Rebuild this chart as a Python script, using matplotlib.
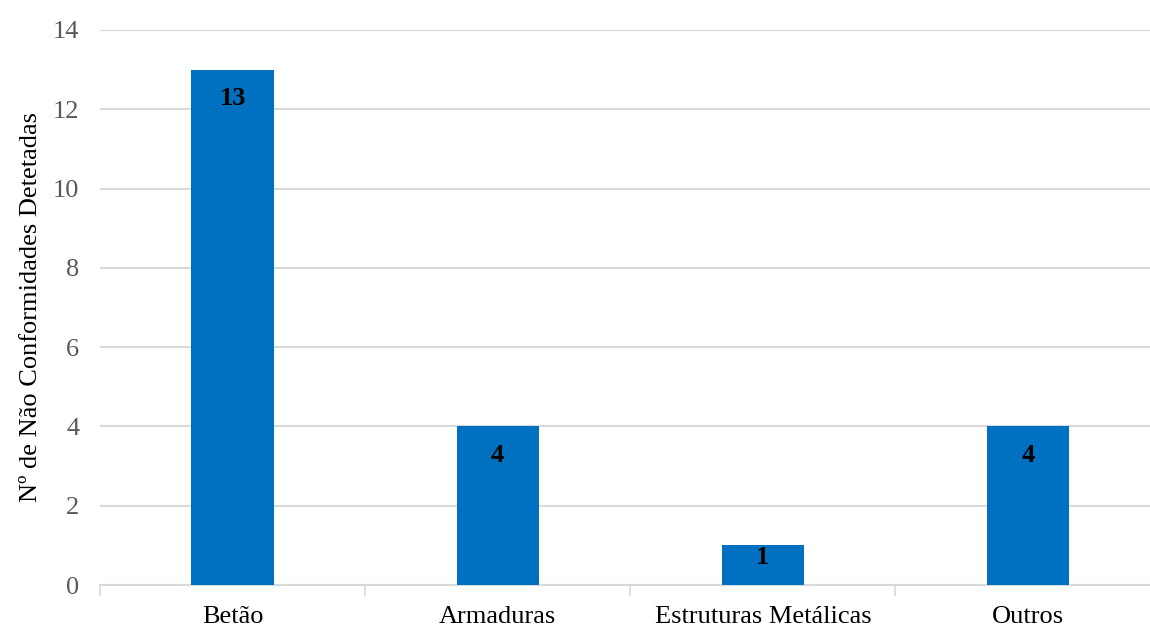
import matplotlib.pyplot as plt
import numpy as np

plt.rcParams['font.family'] = ['Liberation Serif', 'DejaVu Serif']

categorias = ['Betão', 'Armaduras', 'Estruturas Metálicas', 'Outros']
nao_conformidades = [13, 4, 1, 4]
yticks = [0, 2, 4, 6, 8, 10, 12, 14]

azul = '#0070C0'
cinza_grelha = '#D9D9D9'

fig = plt.figure(figsize=(11.5, 6.28), dpi=100)
ax = fig.add_axes([100 / 1150, 43 / 628, 1050 / 1150, 555 / 628])

x = np.arange(len(categorias))
barras = ax.bar(x, nao_conformidades, width=0.31, color=azul, zorder=3)

ax.set_yticks(yticks)
ax.set_yticklabels([str(t) for t in yticks], fontsize=19, color='#595959')
ax.set_xticks(x)
ax.set_xticklabels(categorias, fontsize=19, color='black')
ax.set_xticks([-0.5, 0.5, 1.5, 2.5, 3.5], minor=True)
ax.set_xlim(-0.5, 3.46)
ax.set_ylim(0, 14)

# rótulos dentro do topo da barra (barras baixas ficam com o rótulo mais acima)
pt_por_unidade = 555 / 14 * 0.72
for b, v in zip(barras, nao_conformidades):
    desloc = min(21, 0.3 * v * pt_por_unidade)
    ax.annotate(str(v), (b.get_x() + b.get_width() / 2, v),
                xytext=(0, -desloc), textcoords='offset points',
                ha='center', va='center', fontsize=19, fontweight='bold',
                color='black', zorder=4)

ax.tick_params(axis='y', length=0, pad=15)
ax.tick_params(axis='x', which='major', length=0, pad=15)
ax.tick_params(axis='x', which='minor', length=8, width=1.2, color=cinza_grelha)

ax.yaxis.grid(True, color=cinza_grelha, linewidth=1.5, zorder=0)
ax.set_axisbelow(True)
for lado in ['top', 'right', 'left']:
    ax.spines[lado].set_visible(False)
ax.spines['bottom'].set_color(cinza_grelha)
ax.spines['bottom'].set_linewidth(1.5)

ax.set_ylabel('Nº de Não Conformidades Detetadas', fontsize=19, color='black', labelpad=8)

fig.savefig('out.png', dpi=100)
